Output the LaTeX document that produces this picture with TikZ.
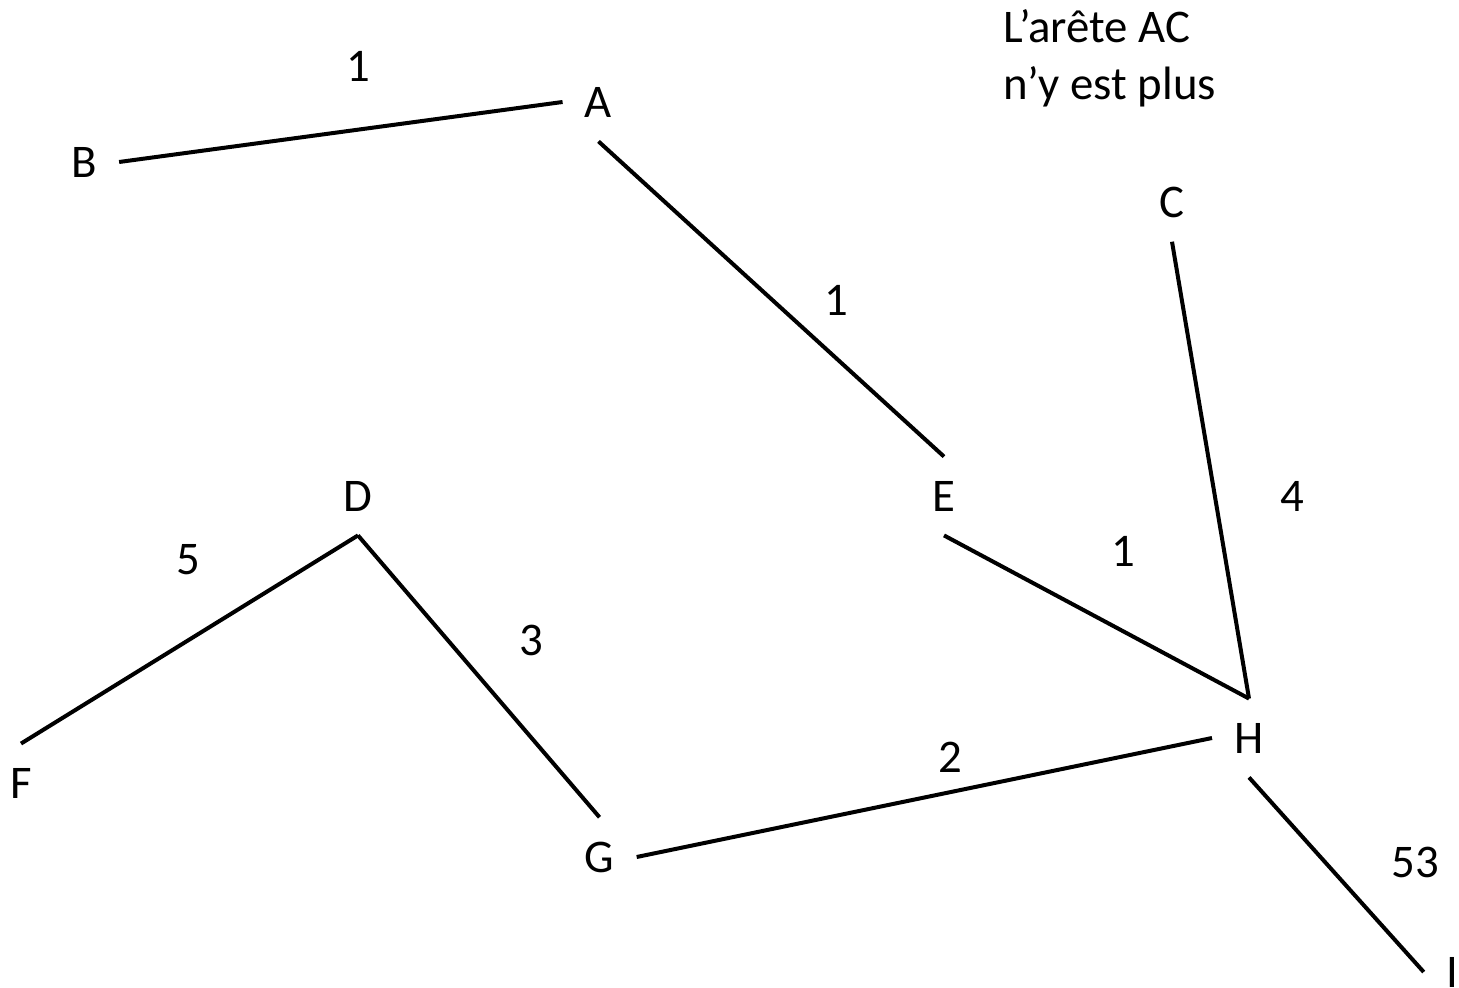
\documentclass[tikz,border=0pt]{standalone}
\usepackage{fontspec}
\setmainfont{Carlito}
\begin{document}
\begin{tikzpicture}[x=0.5pt,y=-0.5pt,
  every node/.style={font=\fontsize{23.4pt}{28.5pt}\selectfont},
  vtx/.style={rectangle,inner xsep=11pt,inner ysep=12pt},
  wlab/.style={inner sep=0pt},
  edge/.style={line width=2pt}]
\useasboundingbox (0,0) rectangle (1459,988);
% vertices
\node[vtx] (B) at (84,162) {B};
\node[vtx] (A) at (598.5,102) {A};
\node[vtx] (C) at (1172,202) {C};
\node[vtx] (E) at (944,496) {E};
\node[vtx] (D) at (358,496) {D};
\node[vtx] (F) at (21,783) {F};
\node[vtx] (G) at (599.5,857) {G};
\node[vtx] (H) at (1249,738) {H};
\node[vtx] (I) at (1452,972) {I};
% edges
\draw[edge] (B.east) -- (A.west);
\draw[edge] (A.south) -- (E.north);
\draw[edge] (C.south) -- (H.north);
\draw[edge] (E.south) -- (H.north);
\draw[edge] (D.south) -- (F.north);
\draw[edge] (D.south) -- (G.north);
\draw[edge] (G.east) -- (H.west);
\draw[edge] (H.south) -- (I.west);
% weights
\node[wlab] (wBA) at (358,66) {1};
\node[wlab] (wAE) at (836,300) {1};
\node[wlab] (wEH) at (1123,551) {1};
\node[wlab] (wCH) at (1292,496) {4};
\node[wlab] (wDF) at (188,560) {5};
\node[wlab] (wDG) at (531,640) {3};
\node[wlab] (wGH) at (950,757) {2};
\node[wlab] (wHI) at (1415,862) {53};
% note
\node[wlab,anchor=base west] (note1) at (1003,43) {L’arête AC};
\node[wlab,anchor=base west] (note2) at (1003,100) {n’y est plus};
\end{tikzpicture}
\end{document}
